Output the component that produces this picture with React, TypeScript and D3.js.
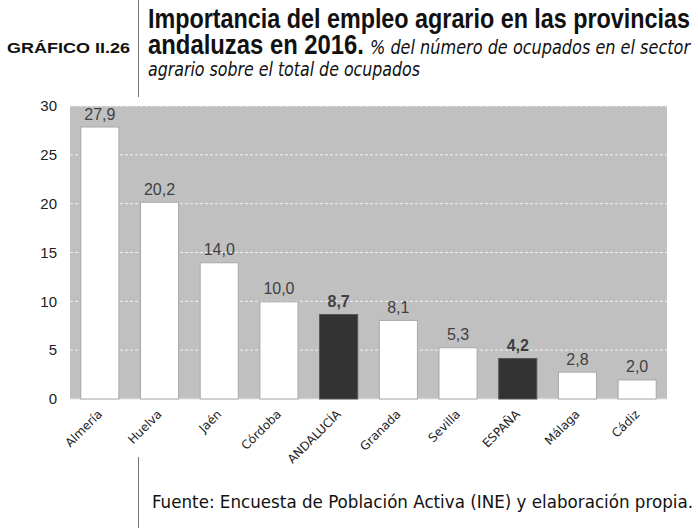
import React from "react";
import * as d3 from "d3";

const categories = ["Almería", "Huelva", "Jaén", "Córdoba", "ANDALUCÍA", "Granada", "Sevilla", "ESPAÑA", "Málaga", "Cádiz"];
const values = [27.9, 20.2, 14.0, 10.0, 8.7, 8.1, 5.3, 4.2, 2.8, 2.0];
const highlighted = ["ANDALUCÍA", "ESPAÑA"];
const yTicks = [0, 5, 10, 15, 20, 25, 30];

const W = 698;
const H = 528;
const plot = { left: 70, right: 667, top: 106, bottom: 399 };

export default function App() {
  const x = d3.scaleBand<string>().domain(categories).range([plot.left, plot.right]).paddingInner(0.345).paddingOuter(0.1725);
  const y = d3.scaleLinear().domain([0, 30]).range([plot.bottom, plot.top]);
  const fmt = (v: number) => d3.format(".1f")(v).replace(".", ",");
  const arial = "'Liberation Sans', Arial, sans-serif";
  const cond = "'DejaVu Sans Condensed', 'DejaVu Sans', sans-serif";

  return (
    <svg width={W} height={H} style={{ position: "absolute", left: 0, top: 0, background: "#fff" }}>
      {/* header */}
      <text x={7} y={53} fontFamily={arial} fontWeight="bold" fontSize={15.5} fill="#111" textLength={123} lengthAdjust="spacingAndGlyphs">GRÁFICO II.26</text>
      <line x1={138.5} x2={138.5} y1={0} y2={97} stroke="#777" strokeWidth={1} />
      <text x={148} y={28} fontFamily={arial} fontWeight="bold" fontSize={27} fill="#111" textLength={542} lengthAdjust="spacingAndGlyphs">Importancia del empleo agrario en las provincias</text>
      <text x={148} y={54} fontFamily={arial} fontWeight="bold" fontSize={27} fill="#111" textLength={216} lengthAdjust="spacingAndGlyphs">andaluzas en 2016.</text>
      <text x={370} y={54} fontFamily={cond} fontStyle="italic" fontSize={19} fill="#111" textLength={320} lengthAdjust="spacingAndGlyphs">% del número de ocupados en el sector</text>
      <text x={148} y={76} fontFamily={cond} fontStyle="italic" fontSize={19} fill="#111" textLength={272} lengthAdjust="spacingAndGlyphs">agrario sobre el total de ocupados</text>

      {/* plot background */}
      <rect x={plot.left} y={plot.top} width={plot.right - plot.left} height={plot.bottom - plot.top} fill="#c0c0c0" />
      {yTicks.filter((t) => t > 0).map((t) => (
        <line key={t} x1={plot.left} x2={plot.right} y1={y(t)} y2={y(t)} stroke="#f2f2f2" strokeWidth={1} strokeDasharray="3,2" />
      ))}
      <line x1={plot.left} x2={plot.right} y1={y(0)} y2={y(0)} stroke="#e6e6e6" strokeWidth={1} />

      {/* y labels */}
      {yTicks.map((t) => (
        <text key={t} x={57} y={y(t)} dy="0.35em" textAnchor="end" fontFamily={arial} fontSize={15} fill="#222">{t}</text>
      ))}

      {/* bars */}
      {categories.map((c, i) => {
        const hl = highlighted.includes(c);
        const x0 = x(c)!;
        return (
          <g key={c}>
            <rect x={x0 + 0.5} y={y(values[i]) + 0.5} width={x.bandwidth() - 1} height={y(0) - y(values[i]) - 0.5} fill={hl ? "#333333" : "#ffffff"} stroke={hl ? "#555" : "#a8a8a8"} strokeWidth={1} />
            <text x={x0 + x.bandwidth() / 2} y={y(values[i]) - 7} textAnchor="middle" fontFamily={arial} fontSize={16} fontWeight={hl ? "bold" : "normal"} fill="#404040">{fmt(values[i])}</text>
            <text transform={`translate(${x0 + x.bandwidth() / 2 + 3},${415}) rotate(-45)`} textAnchor="end" fontFamily="'DejaVu Sans', Verdana, sans-serif" fontSize={12} fill="#222">{c}</text>
          </g>
        );
      })}

      {/* footer */}
      <line x1={138.5} x2={138.5} y1={457} y2={528} stroke="#777" strokeWidth={1} />
      <text x={152} y={508} fontFamily={cond} fontSize={17} fill="#111" textLength={541} lengthAdjust="spacingAndGlyphs">Fuente: Encuesta de Población Activa (INE) y elaboración propia.</text>
    </svg>
  );
}
